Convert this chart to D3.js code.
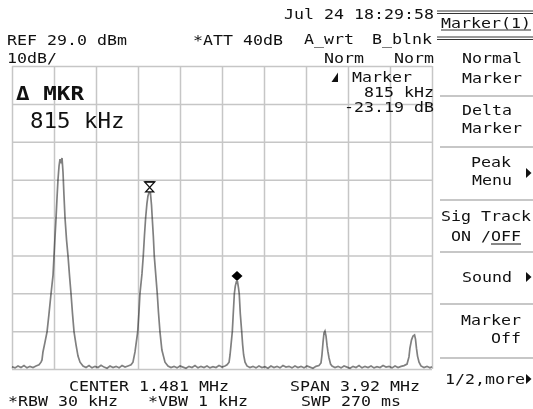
<!DOCTYPE html>
<html>
<head>
  <meta charset="utf-8">
  <title>Spectrum analyzer - Delta Marker</title>
  <script src="https://cdn.jsdelivr.net/npm/d3@7"></script>
  <style>
    body { margin: 0; background: #fff; }
    svg { display: block; }
    text { font-family: "DejaVu Sans Mono", monospace; fill: #111; }
    .grid line { stroke: #c6c6c6; stroke-width: 1.5; }
    .grid path { display: none; }
    .trace { fill: none; stroke: #808080; stroke-width: 1.7; mix-blend-mode: multiply; }
    .sep { stroke: #b4b4b4; stroke-width: 1.5; }
  </style>
</head>
<body>
<script>
  // instrument settings
  var refLevel = 29.0, dbPerDiv = 10, vDivs = 8, hDivs = 10;
  var centerMHz = 1.481, spanMHz = 3.92;

  // trace (MHz, dBm)
  var traceFreq = [
    -0.479, -0.451, -0.423, -0.395, -0.367, -0.339, -0.311, -0.283, -0.255, -0.227,
    -0.208, -0.199, -0.190, -0.171, -0.152, -0.134, -0.115, -0.096, -0.087, -0.078,
    -0.068, -0.059, -0.050, -0.040, -0.031, -0.022, -0.012, -0.003, 0.006, 0.016,
    0.030, 0.044, 0.058, 0.072, 0.086, 0.100, 0.119, 0.137, 0.156, 0.184,
    0.212, 0.240, 0.268, 0.296, 0.324, 0.352, 0.380, 0.408, 0.436, 0.464,
    0.492, 0.520, 0.548, 0.576, 0.604, 0.632, 0.650, 0.669, 0.694, 0.706,
    0.715, 0.734, 0.746, 0.757, 0.768, 0.780, 0.790, 0.799, 0.813, 0.823,
    0.830, 0.840, 0.849, 0.863, 0.877, 0.888, 0.902, 0.920, 0.949, 0.977,
    1.005, 1.033, 1.061, 1.089, 1.117, 1.145, 1.173, 1.201, 1.229, 1.257,
    1.285, 1.313, 1.341, 1.369, 1.397, 1.425, 1.453, 1.481, 1.509, 1.528,
    1.547, 1.556, 1.565, 1.577, 1.584, 1.596, 1.605, 1.615, 1.626, 1.635,
    1.642, 1.652, 1.665, 1.674, 1.683, 1.696, 1.714, 1.742, 1.770, 1.798,
    1.826, 1.854, 1.882, 1.910, 1.938, 1.966, 1.994, 2.022, 2.050, 2.078,
    2.106, 2.134, 2.162, 2.190, 2.218, 2.246, 2.274, 2.302, 2.330, 2.358,
    2.386, 2.405, 2.414, 2.424, 2.433, 2.442, 2.452, 2.461, 2.470, 2.480,
    2.494, 2.508, 2.536, 2.564, 2.592, 2.620, 2.648, 2.676, 2.704, 2.732,
    2.760, 2.788, 2.816, 2.844, 2.872, 2.900, 2.928, 2.956, 2.984, 3.012,
    3.040, 3.068, 3.096, 3.124, 3.152, 3.180, 3.208, 3.226, 3.235, 3.250,
    3.264, 3.278, 3.287, 3.296, 3.306, 3.320, 3.338, 3.366, 3.394, 3.422,
    3.441
  ];
  var traceLevel = [
    -50.4, -50.7, -50.2, -50.6, -50.1, -50.7, -50.3, -50.6, -50.2, -49.9,
    -49.2, -48.6, -46.5, -43.9, -41.2, -36.5, -31.2, -26.2, -21.2, -16.4,
    -11.2, -5.9, -1.1, 2.6, 4.4, 3.7, 4.7, 1.0, -5.1, -11.2,
    -16.9, -21.2, -26.4, -31.2, -36.5, -41.2, -44.7, -47.6, -49.2, -50.2,
    -50.6, -50.1, -50.7, -50.3, -50.6, -50.0, -50.5, -50.8, -50.2, -50.6,
    -50.3, -50.7, -50.1, -50.5, -50.2, -49.9, -49.2, -46.5, -41.2, -36.0,
    -31.2, -25.9, -21.2, -15.9, -11.2, -7.4, -5.3, -4.5, -4.5, -7.7,
    -11.2, -15.9, -21.2, -26.2, -31.2, -36.0, -41.2, -46.0, -49.2, -50.2,
    -50.6, -50.3, -50.7, -50.2, -50.5, -50.8, -50.3, -50.6, -50.1, -50.7,
    -50.3, -50.6, -50.2, -50.7, -50.4, -50.6, -50.1, -50.5, -50.2, -49.9,
    -49.2, -47.3, -44.7, -41.2, -37.5, -31.2, -29.1, -28.0, -28.0, -29.6,
    -31.2, -36.5, -41.2, -44.7, -47.3, -49.2, -50.2, -50.6, -50.3, -50.7,
    -50.2, -50.6, -50.4, -50.8, -50.2, -50.6, -50.3, -50.7, -50.1, -50.5,
    -50.3, -50.7, -50.2, -50.6, -50.3, -50.7, -50.2, -50.5, -50.8, -50.3,
    -50.1, -49.4, -47.3, -43.9, -41.5, -41.0, -42.3, -44.7, -46.5, -48.1,
    -49.7, -50.2, -50.6, -50.3, -50.7, -50.2, -50.5, -50.8, -50.3, -50.6,
    -50.1, -50.7, -50.3, -50.6, -50.2, -50.7, -50.4, -50.6, -50.1, -50.5,
    -50.3, -50.7, -50.2, -50.6, -50.3, -50.1, -49.7, -47.8, -45.5, -43.3,
    -42.3, -42.0, -43.1, -45.5, -47.6, -49.2, -50.2, -50.6, -50.3, -50.7,
    -50.4
  ];

  // markers (MHz, dBm)
  var refMarker = [0.806, -4.5];
  var deltaMarker = [1.621, -28.0];

  // screen texts
  var headerTexts = [
    ["Jul 24 18:29:58", 284, 19],
    ["REF 29.0 dBm", 7, 45],
    ["*ATT 40dB", 193, 45],
    ["A_wrt", 304, 44],
    ["B_blnk", 372, 44],
    ["10dB/", 7, 63],
    ["Norm", 324, 63],
    ["Norm", 394, 63],
    ["Marker", 352, 82],
    ["815 kHz", 364, 97],
    ["-23.19 dB", 344, 112]
  ];
  var footerTexts = [
    ["CENTER 1.481 MHz", 69, 391],
    ["SPAN 3.92 MHz", 290, 391],
    ["*RBW 30 kHz", 8, 406],
    ["*VBW 1 kHz", 148, 406],
    ["SWP 270 ms", 301, 406]
  ];
  var menuTexts = [
    ["Marker(1)", 441, 28],
    ["Normal", 462, 63], ["Marker", 462, 83],
    ["Delta", 462, 115], ["Marker", 462, 133],
    ["Peak", 471, 167], ["Menu", 472, 185],
    ["Sig Track", 441, 221], ["ON /OFF", 451, 241],
    ["Sound", 462, 282],
    ["Marker", 461, 325], ["Off", 491, 343],
    ["1/2,more", 445, 384]
  ];
  var menuSeparators = [96, 147, 200, 252, 304, 358];
  var menuArrows = [173, 277, 379];

  var W = 533, H = 409;
  var plot = { left: 12, right: 432, top: 66, bottom: 369 };
  var CW = 10;

  var svg = d3.select("body").append("svg").attr("width", W).attr("height", H);

  var x = d3.scaleLinear()
    .domain([centerMHz - spanMHz / 2, centerMHz + spanMHz / 2])
    .range([plot.left, plot.right]);
  var y = d3.scaleLinear()
    .domain([refLevel - dbPerDiv * vDivs, refLevel])
    .range([plot.bottom, plot.top]);

  var xTicks = d3.range(hDivs + 1).map(function (i) { return x.domain()[0] + i * spanMHz / hDivs; });
  var yTicks = d3.range(vDivs + 1).map(function (i) { return refLevel - i * dbPerDiv; });

  // graticule
  svg.append("g").attr("class", "grid")
    .attr("transform", "translate(0," + plot.bottom + ")")
    .call(d3.axisBottom(x).tickValues(xTicks).tickSize(-(plot.bottom - plot.top)).tickFormat(""));
  svg.append("g").attr("class", "grid")
    .attr("transform", "translate(" + plot.left + ",0)")
    .call(d3.axisLeft(y).tickValues(yTicks).tickSize(-(plot.right - plot.left)).tickFormat(""));

  // trace
  var trace = traceFreq.map(function (f, i) { return [f, traceLevel[i]]; });
  svg.append("path")
    .datum(trace)
    .attr("class", "trace")
    .attr("d", d3.line().x(function (d) { return x(d[0]); }).y(function (d) { return y(d[1]); }));

  // reference marker (hourglass)
  var rx = x(refMarker[0]), ry = y(refMarker[1]) - 1;
  svg.append("path")
    .attr("d", "M" + (rx - 5) + "," + (ry - 10) + "H" + (rx + 5) + "L" + (rx - 4) + "," + ry + "H" + (rx + 4) + "Z")
    .attr("fill", "none").attr("stroke", "#111").attr("stroke-width", 1.3);
  svg.append("line")
    .attr("x1", rx - 5).attr("x2", rx + 5).attr("y1", ry - 10).attr("y2", ry - 10)
    .attr("stroke", "#111").attr("stroke-width", 1.5);

  // delta marker (diamond)
  var dx = x(deltaMarker[0]), dy = y(deltaMarker[1]) - 6;
  svg.append("path")
    .attr("d", "M" + dx + "," + (dy - 5) + "L" + (dx + 5.5) + "," + dy + "L" + dx + "," + (dy + 5) + "L" + (dx - 5.5) + "," + dy + "Z")
    .attr("fill", "#000");

  function label(g, t, px, py, cw) {
    cw = cw || CW;
    return g.append("text")
      .attr("x", px).attr("y", py)
      .attr("textLength", t.length * cw)
      .attr("lengthAdjust", "spacingAndGlyphs")
      .style("font-size", "13.5px")
      .text(t);
  }

  var txt = svg.append("g");
  headerTexts.concat(footerTexts).concat(menuTexts).forEach(function (d) {
    label(txt, d[0], d[1], d[2]);
  });

  // delta symbol in marker readout
  svg.append("path")
    .attr("d", "M331.5,82 L338,72.5 L338,82 Z")
    .attr("fill", "#111");

  // big active marker readout
  label(txt, "\u0394 MKR", 16, 100, 13.6).style("font-size", "20px").style("font-weight", "bold");
  label(txt, "815 kHz", 30, 128, 13.5).style("font-size", "21px");

  // underline under OFF
  svg.append("line").attr("x1", 491).attr("x2", 521).attr("y1", 244).attr("y2", 244)
    .attr("stroke", "#111").attr("stroke-width", 1);

  // softkey panel rules
  [11, 13.5, 37, 39.5].forEach(function (v) {
    svg.append("line").attr("x1", 437).attr("x2", W).attr("y1", v).attr("y2", v)
      .attr("stroke", "#333").attr("stroke-width", 1);
  });
  svg.append("line").attr("x1", 441).attr("x2", 531).attr("y1", 30).attr("y2", 30)
    .attr("stroke", "#333").attr("stroke-width", 1);
  menuSeparators.forEach(function (v) {
    svg.append("line").attr("class", "sep").attr("x1", 440).attr("x2", W).attr("y1", v).attr("y2", v);
  });
  menuArrows.forEach(function (v) {
    svg.append("path")
      .attr("d", "M526," + (v - 5) + "L531.5," + v + "L526," + (v + 5) + "Z")
      .attr("fill", "#111");
  });
</script>
</body>
</html>
